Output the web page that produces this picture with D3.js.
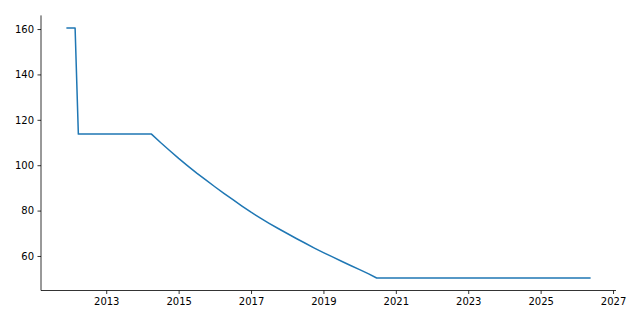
<!DOCTYPE html>
<html>
<head>
<meta charset="utf-8">
<script src="https://cdn.jsdelivr.net/npm/d3@7"></script>
<style>
  body { margin: 0; background: #fff; }
  svg text { font-family: "DejaVu Sans", sans-serif; }
</style>
</head>
<body>
<div id="chart"></div>
<script>
// values (decimal year, value)
const years = [2011.92, 2012.14, 2012.23, 2014.25,
    2014.5, 2014.75, 2015.0, 2015.25, 2015.5, 2015.75, 2016.0, 2016.25,
    2016.5, 2016.75, 2017.0, 2017.25, 2017.5, 2017.75, 2018.0, 2018.25,
    2018.5, 2018.75, 2019.0, 2019.25, 2019.5, 2019.75, 2020.0, 2020.25,
    2020.47, 2026.36];
const values = [160.5, 160.5, 113.7, 113.7,
    110.0, 106.5, 103.0, 99.7, 96.5, 93.5, 90.5, 87.6,
    84.8, 82.0, 79.3, 76.8, 74.4, 72.1, 69.9, 67.7,
    65.6, 63.5, 61.5, 59.6, 57.7, 55.8, 54.0, 52.1,
    50.3, 50.3];
const xTicks = [2013, 2015, 2017, 2019, 2021, 2023, 2025, 2027];
const yTicks = [60, 80, 100, 120, 140, 160];

const width = 640, height = 320;
const margin = { top: 15.4, right: 24, bottom: 29.5, left: 41 };

const data = years.map((y, i) => ({ year: y, value: values[i] }));

function padded(ext) {
    const pad = (ext[1] - ext[0]) * 0.05;
    return [ext[0] - pad, ext[1] + pad];
}

const x = d3.scaleLinear()
    .domain(padded(d3.extent(years)))
    .range([margin.left, width - margin.right]);
const y = d3.scaleLinear()
    .domain(padded(d3.extent(values)))
    .range([height - margin.bottom, margin.top]);

const svg = d3.select("#chart")
    .append("svg")
    .attr("width", width)
    .attr("height", height);

// x axis
const xAxis = svg.append("g")
    .attr("transform", `translate(0, ${height - margin.bottom})`)
    .call(d3.axisBottom(x).tickValues(xTicks).tickFormat(d3.format("d"))
        .tickSize(3.5).tickPadding(3.5));

// y axis
const yAxis = svg.append("g")
    .attr("transform", `translate(${margin.left}, 0)`)
    .call(d3.axisLeft(y).tickValues(yTicks)
        .tickSize(3.5).tickPadding(3.5));

[xAxis, yAxis].forEach(g => {
    g.select(".domain").remove();
    g.selectAll(".tick line").attr("stroke", "#000").attr("stroke-width", 0.8);
    g.selectAll(".tick text").attr("fill", "#000").attr("font-size", "10px")
        .attr("font-family", "DejaVu Sans, sans-serif");
});

// left and bottom spines only
svg.append("line")
    .attr("x1", margin.left).attr("x2", margin.left)
    .attr("y1", y.range()[0]).attr("y2", y.range()[1])
    .attr("stroke", "#000").attr("stroke-width", 0.8);
svg.append("line")
    .attr("x1", x.range()[0]).attr("x2", x.range()[1])
    .attr("y1", y.range()[0]).attr("y2", y.range()[0])
    .attr("stroke", "#000").attr("stroke-width", 0.8);

const line = d3.line()
    .x(d => x(d.year))
    .y(d => y(d.value));

svg.append("path")
    .datum(data)
    .attr("fill", "none")
    .attr("stroke", "#1f77b4")
    .attr("stroke-width", 1.5)
    .attr("stroke-linejoin", "round")
    .attr("stroke-linecap", "square")
    .attr("d", line);
</script>
</body>
</html>
